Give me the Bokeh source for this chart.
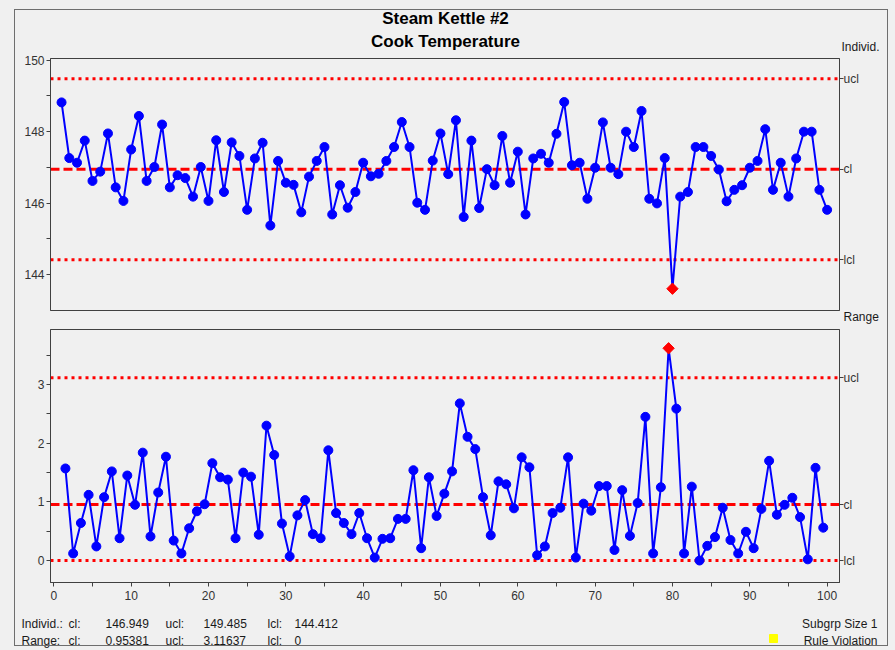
from bokeh.plotting import figure
from bokeh.layouts import column
from bokeh.models import Span, FixedTicker, LinearAxis, CustomJSTickFormatter, Range1d, InlineStyleSheet
from bokeh.core.properties import value
from bokeh.embed import file_html
from bokeh.resources import INLINE
import numpy as np

title_lines = ["Steam Kettle #2", "Cook Temperature"]

individ = [148.82, 147.26, 147.13, 147.75, 146.62, 146.88, 147.95, 146.44, 146.06, 147.50,
           148.44, 146.62, 147.01, 148.20, 146.44, 146.78, 146.70, 146.18, 147.01, 146.06,
           147.76, 146.31, 147.70, 147.32, 145.81, 147.25, 147.69, 145.37, 147.18, 146.57,
           146.51, 145.74, 146.74, 147.18, 147.57, 145.68, 146.50, 145.87, 146.31, 147.13,
           146.75, 146.82, 147.18, 147.57, 148.27, 147.57, 146.01, 145.81, 147.19, 147.95,
           146.81, 148.32, 145.61, 147.75, 145.86, 146.95, 146.50, 147.88, 146.57, 147.44,
           145.68, 147.25, 147.38, 147.13, 147.94, 148.83, 147.06, 147.13, 146.12, 146.99,
           148.26, 146.99, 146.81, 148.00, 147.57, 148.58, 146.12, 145.99, 147.26, 143.60,
           146.18, 146.31, 147.57, 147.57, 147.32, 146.94, 146.05, 146.37, 146.50, 146.99,
           147.18, 148.07, 146.37, 147.13, 146.18, 147.25, 148.00, 148.00, 146.37, 145.81]

moving_range = [1.57, 0.12, 0.64, 1.12, 0.24, 1.08, 1.52, 0.38, 1.45,
                0.95, 1.84, 0.41, 1.16, 1.77, 0.34, 0.12, 0.55, 0.84, 0.96,
                1.66, 1.42, 1.38, 0.38, 1.50, 1.43, 0.44, 2.30, 1.80, 0.63,
                0.07, 0.77, 1.03, 0.45, 0.38, 1.88, 0.81, 0.64, 0.45, 0.81,
                0.38, 0.05, 0.37, 0.38, 0.71, 0.71, 1.54, 0.21, 1.42, 0.76,
                1.14, 1.52, 2.68, 2.11, 1.90, 1.08, 0.43, 1.35, 1.30, 0.89,
                1.76, 1.59, 0.09, 0.24, 0.81, 0.90, 1.76, 0.05, 0.97, 0.85,
                1.27, 1.27, 0.18, 1.20, 0.42, 0.98, 2.45, 0.12, 1.25, 3.62,
                2.59, 0.12, 1.26, 0.00, 0.25, 0.40, 0.90, 0.35, 0.12, 0.49,
                0.21, 0.88, 1.70, 0.78, 0.95, 1.07, 0.74, 0.02, 1.58, 0.56]

ind_cl, ind_ucl, ind_lcl = 146.949, 149.485, 144.412
rng_cl, rng_ucl, rng_lcl = 0.95381, 3.11637, 0.0
subgroup_size = 1

x_ind = np.arange(1, len(individ) + 1)
x_rng = np.arange(2, len(individ) + 1) - 0.5

W = 895
BG = "#f0f0f0"
FONT = "Liberation Sans"
AX = "#404040"
TXT = "#1a1a1a"


def chart(height, y_range, mbt, mbb, xloc):
    p = figure(width=W, height=height, x_range=Range1d(-0.43, 101.6), y_range=y_range,
               output_backend="svg", toolbar_location=None, x_axis_location=xloc,
               min_border_left=50, min_border_right=56, min_border_top=mbt, min_border_bottom=mbb,
               background_fill_color=BG, border_fill_color=BG, outline_line_color=AX)
    p.grid.visible = False
    return p


def strip(height):
    # text-only strip: its ranges are the strip's own pixel layout (x right, y down)
    p = figure(width=W, height=height, x_range=Range1d(0, W), y_range=Range1d(height, 0),
               output_backend="svg", toolbar_location=None, x_axis_location=None, y_axis_location=None,
               min_border=0, min_border_left=0, min_border_right=0, min_border_top=0, min_border_bottom=0,
               background_fill_color=BG, border_fill_color=BG, outline_line_color=None)
    p.grid.visible = False
    return p


def txt(p, x, y, text, size="12px", align="left", style="normal", color=TXT):
    p.text(x=[x], y=[y], text=[text], text_font=value(FONT), text_font_size=value(size),
           text_align=align, text_baseline="middle", text_font_style=style, text_color=color)


def style_axis(ax):
    ax.axis_line_color = AX
    ax.major_tick_line_color = AX
    ax.minor_tick_line_color = AX
    ax.major_tick_in = 0
    ax.major_tick_out = 4
    ax.minor_tick_in = 0
    ax.minor_tick_out = 4
    ax.major_label_text_font = FONT
    ax.major_label_text_font_size = "12px"
    ax.major_label_text_color = "#333333"


def add_limits(p, cl, ucl, lcl):
    for loc, dash in ((ucl, "3 4"), (cl, "9 4"), (lcl, "3 4")):
        p.add_layout(Span(location=loc, dimension="width", line_color="#ff0000",
                          line_width=3, line_dash=dash, level="underlay"))
    rax = LinearAxis(ticker=FixedTicker(ticks=[lcl, cl, ucl], minor_ticks=[]),
                     formatter=CustomJSTickFormatter(args=dict(cl=cl, ucl=ucl), code="""
                        if (Math.abs(tick - ucl) < 1e-6) { return 'ucl'; }
                        if (Math.abs(tick - cl) < 1e-6) { return 'cl'; }
                        return 'lcl';"""))
    style_axis(rax)
    rax.major_label_standoff = 0
    p.add_layout(rax, "right")


def add_series(p, xs, ys, lo, hi):
    xs = np.asarray(xs, dtype=float)
    ys = np.asarray(ys, dtype=float)
    bad = (ys > hi) | (ys < lo)
    p.line(xs, ys, line_color="#0000ff", line_width=2)
    p.scatter(xs[~bad], ys[~bad], marker="circle", size=9, fill_color="#0000ff", line_color="#0000ff")
    p.scatter(xs[bad], ys[bad], marker="square", angle=np.pi / 4, size=8,
              fill_color="#ff0000", line_color="#ff0000")


# ---- header ----
head = strip(54)
txt(head, 445, 18, title_lines[0], size="17px", align="center", style="bold", color="#000000")
txt(head, 445, 41, title_lines[1], size="17px", align="center", style="bold", color="#000000")
txt(head, 841, 46, "Individ.")

# ---- Individuals chart ----
p1 = chart(257, Range1d(142.99, 150.05), 4, 1, None)
style_axis(p1.yaxis[0])
p1.yaxis[0].ticker = FixedTicker(ticks=[144, 146, 148, 150], minor_ticks=[145, 147, 149])
p1.yaxis[0].major_label_standoff = 2
add_limits(p1, ind_cl, ind_ucl, ind_lcl)
add_series(p1, x_ind, individ, ind_lcl, ind_ucl)

# ---- "Range" caption between charts ----
mid = strip(16)
txt(mid, 843, 5, "Range")

# ---- Range chart ----
p2 = chart(283, Range1d(-0.375, 3.94), 2, 28, "below")
for ax in (p2.xaxis[0], p2.yaxis[0]):
    style_axis(ax)
p2.xaxis[0].ticker = FixedTicker(ticks=list(range(0, 101, 10)), minor_ticks=list(range(5, 100, 10)))
p2.yaxis[0].ticker = FixedTicker(ticks=[0, 1, 2, 3], minor_ticks=[0.5, 1.5, 2.5, 3.5])
p2.yaxis[0].major_label_standoff = 2
p2.xaxis[0].major_label_standoff = 4
add_limits(p2, rng_cl, rng_ucl, rng_lcl)
add_series(p2, x_rng, moving_range, rng_lcl, rng_ucl)

# ---- footer ----
foot = strip(40)
row1 = ["Individ.:", "cl:", f"{ind_cl:g}", "ucl:", f"{ind_ucl:g}", "lcl:", f"{ind_lcl:g}"]
row2 = ["Range:", "cl:", f"{rng_cl:g}", "ucl:", f"{rng_ucl:g}", "lcl:", f"{rng_lcl:g}"]
xs_foot = [21, 68, 105, 165, 203, 267, 294]
for t, xx in zip(row1, xs_foot):
    txt(foot, xx, 13, t)
for t, xx in zip(row2, xs_foot):
    txt(foot, xx, 30, t)
txt(foot, 877, 13, f"Subgrp Size {subgroup_size}", align="right")
txt(foot, 877, 30, "Rule Violation", align="right")
foot.scatter(x=[773], y=[28], marker="square", size=8, fill_color="#ffff00", line_color="#ffff00")

frame_css = InlineStyleSheet(css="""
:host { position: relative; }
:host::after { content: ""; position: absolute; left: 14px; top: 9px; right: 7px; bottom: 4px;
  border: 1px solid #6e6e6e; pointer-events: none; z-index: 10; }
""")
layout = column(column(head), p1, column(mid), p2, column(foot), spacing=0,
                styles={"background-color": BG}, stylesheets=[frame_css])
open("out.html", "w").write(file_html(layout, INLINE))
